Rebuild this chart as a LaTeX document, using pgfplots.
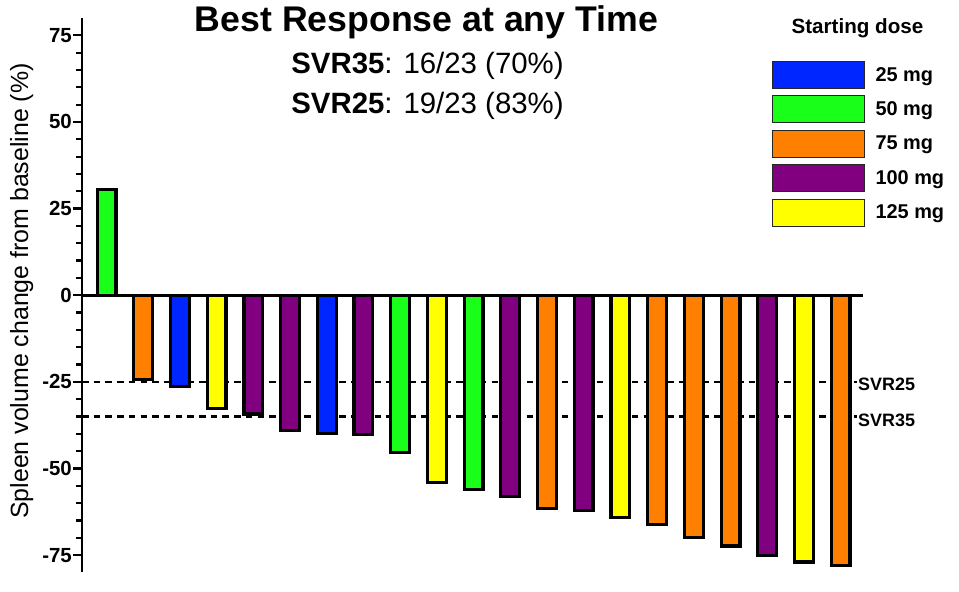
\documentclass[border=0pt]{standalone}
\usepackage{pgfplots}
\pgfplotsset{compat=1.18}
\usepackage{fontspec}
\setmainfont{Liberation Sans}
\definecolor{cblue}{HTML}{0026FF}
\definecolor{cgreen}{HTML}{1AFF1A}
\definecolor{corange}{HTML}{FF8000}
\definecolor{cpurple}{HTML}{800080}
\definecolor{cyellow}{HTML}{FFFF00}
\begin{document}
\begin{tikzpicture}
\useasboundingbox (0bp,0bp) rectangle (959bp,592bp);
\begin{axis}[
  at={(82bp,19.6bp)}, anchor=south west,
  scale only axis, width=781bp, height=554.4bp,
  xmin=0.332, xmax=21.61, ymin=-80, ymax=80,
  axis x line=middle, axis y line=left,
  axis line style={-, line width=2.8bp, black},
  xtick=\empty,
  ytick={-75,-50,-25,0,25,50,75},
  yticklabels={-75,-50,-25,0,25,50,75},
  minor y tick num=4,
  tick align=outside,
  major tick length=9bp, minor tick length=5.5bp,
  every tick/.style={black, line width=2.2bp},
  yticklabel style={font=\fontsize{20.5}{24}\selectfont\bfseries, inner sep=1bp},
  clip=false,
  legend style={draw=none, fill=none, inner sep=0pt, outer sep=0pt,
    at={(0.883,0.9224)}, anchor=north west,
    nodes={inner sep=0pt, font=\fontsize{20}{24}\selectfont\bfseries},
    row sep=6.5bp,
    /tikz/every odd column/.append style={column sep=11bp}},
  legend cell align=left,
  legend image code/.code={\draw[#1, line width=0.9bp, draw=black!85] (0bp,-13.5bp) rectangle (92bp,13.5bp);},
]
\addplot[forget plot, black, line width=2.2bp, dash pattern=on 6.5bp off 5.2bp] coordinates {(0.332,-25) (21.45,-25)};
\addplot[forget plot, black, line width=2.2bp, dash pattern=on 6.5bp off 5.2bp] coordinates {(0.332,-35) (21.45,-35)};
\addplot[ybar, bar width=18.8bp, bar shift=0pt, fill=cblue, draw=black, line width=3.2bp] coordinates {(3,-26.3) (7,-39.9)};
\addlegendentry{25 mg}
\addplot[ybar, bar width=18.8bp, bar shift=0pt, fill=cgreen, draw=black, line width=3.2bp] coordinates {(1,30.4) (9,-45.4) (11,-56.0)};
\addlegendentry{50 mg}
\addplot[ybar, bar width=18.8bp, bar shift=0pt, fill=corange, draw=black, line width=3.2bp] coordinates {(2,-24.3) (13,-61.5) (16,-66.1) (17,-70.0) (18,-72.4) (21,-77.9)};
\addlegendentry{75 mg}
\addplot[ybar, bar width=18.8bp, bar shift=0pt, fill=cpurple, draw=black, line width=3.2bp] coordinates {(5,-34.3) (6,-39.1) (8,-40.1) (12,-58.2) (14,-62.2) (19,-75.2)};
\addlegendentry{100 mg}
\addplot[ybar, bar width=18.8bp, bar shift=0pt, fill=cyellow, draw=black, line width=3.2bp] coordinates {(4,-32.6) (10,-54.0) (15,-64.1) (20,-77.0)};
\addlegendentry{125 mg}
\end{axis}
\node[anchor=base, inner sep=0pt] at (426.5bp,560.3bp) {\fontsize{35.8}{42}\selectfont\bfseries Best Response at any Time};
\node[anchor=base, inner sep=0pt] at (427.5bp,518.5bp) {\fontsize{29.5}{34}\selectfont\textbf{SVR35}: 16/23 (70\%)};
\node[anchor=base, inner sep=0pt] at (427.5bp,478.7bp) {\fontsize{29.5}{34}\selectfont\textbf{SVR25}: 19/23 (83\%)};
\node[anchor=base, inner sep=0pt] at (857.5bp,558.7bp) {\fontsize{20.7}{24}\selectfont\bfseries Starting dose};
\node[anchor=base, rotate=90, inner sep=0pt] at (28bp,301bp) {\fontsize{25}{30}\selectfont Spleen volume change from baseline (\%)};
\node[anchor=west, inner sep=0pt] at (858bp,208bp) {\fontsize{18}{22}\selectfont\bfseries SVR25};
\node[anchor=west, inner sep=0pt] at (858bp,172bp) {\fontsize{18}{22}\selectfont\bfseries SVR35};
\end{tikzpicture}
\end{document}
